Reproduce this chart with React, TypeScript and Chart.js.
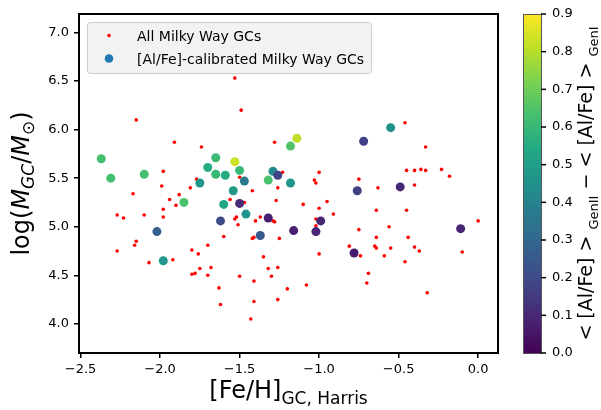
import React, { useEffect, useRef } from 'react';
import { Chart, registerables } from 'chart.js';

Chart.register(...registerables);

// ---- Data: all Milky Way GCs ----
const allFeH = [
  -1.53, -1.49, -2.15, -0.46, -1.91, -1.74, -1.28, -0.33, -1.98, -1.29,
  -1.23, -1.00, -0.45, -0.40, -0.36, -0.33, -0.23, -0.18, -0.75, -1.03,
  -1.02, -0.40, -1.77, -1.50, -1.99, -1.81, -1.26, -0.63, -1.42, -2.17,
  -1.88, -1.94, -1.90, -1.56, -1.47, -1.27, -0.95, -1.10, -1.98, -1.00,
  -2.10, -0.91, -2.27, -2.23, -1.98, -0.64, -0.45, -1.52, -1.53, -1.37,
  -1.40, -1.29, -1.28, -1.02, -1.02, 0.00, -1.51, -0.75, -0.56, -1.60,
  -2.27, -2.16, -2.15, -2.07, -1.92, -1.80, -1.76, -1.80, -1.78, -1.75,
  -1.70, -1.68, -1.70, -1.63, -1.62, -1.50, -1.43, -1.42, -1.41, -1.41,
  -1.41, -1.35, -1.32, -1.30, -1.26, -1.26, -1.25, -1.20, -1.08, -1.00,
  -0.81, -0.74, -0.69, -0.70, -0.64, -0.65, -0.64, -0.59, -0.55, -0.46,
  -0.44, -0.40, -0.37, -0.32, -0.10,
];
const allLogM = [
  6.53, 6.20, 6.10, 6.07, 5.87, 5.82, 5.87, 5.82, 5.57, 5.60,
  5.56, 5.56, 5.58, 5.58, 5.59, 5.58, 5.59, 5.52, 5.49, 5.48,
  5.45, 5.43, 5.49, 5.51, 5.42, 5.40, 5.40, 5.40, 5.37, 5.34,
  5.33, 5.28, 5.22, 5.28, 5.25, 5.27, 5.26, 5.23, 5.18, 5.19,
  5.12, 5.13, 5.12, 5.09, 5.10, 5.17, 5.17, 5.10, 5.08, 5.10,
  5.06, 5.06, 5.05, 5.08, 5.01, 5.06, 5.02, 4.97, 5.00, 4.90,
  4.75, 4.81, 4.85, 4.63, 4.66, 4.76, 4.72, 4.51, 4.52, 4.57,
  4.81, 4.58, 4.50, 4.37, 4.20, 4.49, 4.05, 4.88, 4.89, 4.44,
  4.23, 4.69, 4.57, 4.49, 4.58, 4.25, 4.88, 4.36, 4.40, 4.72,
  4.80, 4.70, 4.52, 4.42, 4.89, 4.80, 4.78, 4.70, 4.78, 4.64,
  4.89, 4.79, 4.75, 4.32, 4.74,
];

// ---- Data: [Al/Fe]-calibrated GCs ----
const calFeH = [
  -2.37, -2.31, -2.10, -1.85, -2.02, -1.98, -1.75, -1.70, -1.65, -1.65,
  -1.59, -1.53, -1.50, -1.54, -1.60, -1.50, -1.47, -1.46, -1.62, -1.37,
  -1.32, -1.32, -1.29, -1.26, -1.18, -1.18, -1.14, -1.16, -1.02, -0.99,
  -0.78, -0.76, -0.72, -0.55, -0.49, -0.11,
];
const calLogM = [
  5.70, 5.50, 5.54, 5.25, 4.95, 4.65, 5.45, 5.61, 5.71, 5.54,
  5.53, 5.67, 5.58, 5.37, 5.23, 5.24, 5.47, 5.13, 5.06, 4.91,
  5.09, 5.48, 5.57, 5.53, 5.45, 5.83, 5.91, 4.96, 4.95, 5.06,
  4.73, 5.37, 5.88, 6.02, 5.41, 4.98,
];
const calDeltaAlFe = [
  0.63, 0.63, 0.63, 0.64, 0.27, 0.47, 0.47, 0.55, 0.61, 0.60,
  0.55, 0.83, 0.60, 0.48, 0.53, 0.11, 0.36, 0.46, 0.20, 0.25,
  0.08, 0.64, 0.42, 0.18, 0.46, 0.65, 0.81, 0.08, 0.09, 0.09,
  0.07, 0.17, 0.17, 0.45, 0.10, 0.09,
];

// ---- Axes ----
const xTickValues = [-2.5, -2.0, -1.5, -1.0, -0.5, 0.0];
const yTickValues = [4.0, 4.5, 5.0, 5.5, 6.0, 6.5, 7.0];
const cbTickValues = [0.0, 0.1, 0.2, 0.3, 0.4, 0.5, 0.6, 0.7, 0.8, 0.9];
const xRange = [-2.51, 0.125];
const yRange = [3.70, 7.19];
const cbRange = [0.0, 0.9];
const legendLabels = ['All Milky Way GCs', '[Al/Fe]-calibrated Milky Way GCs'];

const viridisStops = [
  '#440154', '#482475', '#414487', '#355f8d', '#2a788e', '#21918c',
  '#22a884', '#44bf70', '#7ad151', '#bddf26', '#fde725',
];

function hexToRgb(h: string) {
  return [parseInt(h.slice(1, 3), 16), parseInt(h.slice(3, 5), 16), parseInt(h.slice(5, 7), 16)];
}
function viridis(t: number) {
  const tt = Math.max(0, Math.min(1, t));
  const p = tt * (viridisStops.length - 1);
  const i = Math.min(viridisStops.length - 2, Math.floor(p));
  const f = p - i;
  const a = hexToRgb(viridisStops[i]);
  const b = hexToRgb(viridisStops[i + 1]);
  const c = a.map((v, k) => Math.round(v + (b[k] - v) * f));
  return `rgb(${c[0]},${c[1]},${c[2]})`;
}

const FONT = '"DejaVu Sans"';
const fmt1 = (v: number) => (v < 0 ? '\u2212' : '') + Math.abs(v).toFixed(1);

type Seg = { t: string; f: string; dy?: number };

function drawRich(ctx: CanvasRenderingContext2D, segs: Seg[], cx: number, cy: number, vertical: boolean) {
  ctx.save();
  ctx.fillStyle = '#000';
  ctx.textBaseline = 'alphabetic';
  ctx.textAlign = 'left';
  let total = 0;
  const widths = segs.map((s) => {
    ctx.font = s.f;
    const w = ctx.measureText(s.t).width;
    total += w;
    return w;
  });
  ctx.translate(cx, cy);
  if (vertical) ctx.rotate(-Math.PI / 2);
  let x = -total / 2;
  segs.forEach((s, i) => {
    ctx.font = s.f;
    ctx.fillText(s.t, x, s.dy || 0);
    x += widths[i];
  });
  ctx.restore();
}

const decorPlugin = {
  id: 'decor',
  afterDraw(chart: any) {
    const ctx: CanvasRenderingContext2D = chart.ctx;
    const ca = chart.chartArea;

    // axes frame
    ctx.save();
    ctx.strokeStyle = '#000';
    ctx.lineWidth = 2;
    ctx.strokeRect(ca.left, ca.top, ca.right - ca.left, ca.bottom - ca.top);
    ctx.restore();

    // legend
    ctx.save();
    const lx = ca.left + 8;
    const ly = ca.top + 8;
    ctx.font = `14px ${FONT}`;
    const tw = Math.max(...legendLabels.map((l) => ctx.measureText(l).width));
    const lw = 50 + tw + 7;
    const lh = 51;
    ctx.beginPath();
    (ctx as any).roundRect(lx + 0.5, ly + 0.5, lw, lh, 3);
    ctx.fillStyle = '#f2f2f2';
    ctx.fill();
    ctx.strokeStyle = '#cccccc';
    ctx.lineWidth = 1;
    ctx.stroke();
    ctx.fillStyle = '#ff0000';
    ctx.beginPath();
    ctx.arc(lx + 22, ly + 13.5, 1.8, 0, Math.PI * 2);
    ctx.fill();
    ctx.fillStyle = '#1f77b4';
    ctx.beginPath();
    ctx.arc(lx + 22, ly + 36.5, 4.3, 0, Math.PI * 2);
    ctx.fill();
    ctx.fillStyle = '#000';
    ctx.textBaseline = 'alphabetic';
    ctx.fillText(legendLabels[0], lx + 50, ly + 18.5);
    ctx.fillText(legendLabels[1], lx + 50, ly + 41.5);
    ctx.restore();

    // colorbar
    const cb = chart.scales.cb;
    const y0 = cb.getPixelForValue(cbRange[0]);
    const y1 = cb.getPixelForValue(cbRange[1]);
    const bx = ca.right + 25;
    const bw = 18;
    ctx.save();
    const g = ctx.createLinearGradient(0, y0, 0, y1);
    viridisStops.forEach((c, i) => g.addColorStop(i / (viridisStops.length - 1), c));
    ctx.fillStyle = g;
    ctx.fillRect(bx, y1, bw, y0 - y1);
    ctx.strokeStyle = '#555';
    ctx.lineWidth = 1;
    ctx.strokeRect(bx + 0.5, y1 + 0.5, bw, y0 - y1);
    ctx.strokeStyle = '#000';
    ctx.lineWidth = 1.5;
    cbTickValues.forEach((v) => {
      const y = cb.getPixelForValue(v);
      ctx.beginPath();
      ctx.moveTo(bx + bw, y);
      ctx.lineTo(bx + bw + 5, y);
      ctx.stroke();
    });
    ctx.restore();

    // axis labels
    drawRich(
      ctx,
      [
        { t: '[Fe/H]', f: `24px ${FONT}` },
        { t: 'GC, Harris', f: `17px ${FONT}`, dy: 6 },
      ],
      (ca.left + ca.right) / 2,
      398,
      false
    );
    ctx.save();
    ctx.translate(28.5, (ca.top + ca.bottom) / 2);
    drawRich(
      ctx,
      [
        { t: 'log(', f: `24px ${FONT}` },
        { t: 'M', f: `italic 24px ${FONT}` },
        { t: 'GC', f: `italic 17px ${FONT}`, dy: 5 },
        { t: '/', f: `24px ${FONT}` },
        { t: 'M', f: `italic 24px ${FONT}` },
        { t: '\u2299', f: `17px ${FONT}`, dy: 5 },
        { t: ')', f: `24px ${FONT}` },
      ],
      0,
      0,
      true
    );
    ctx.restore();
    ctx.save();
    ctx.translate(591.5, (ca.top + ca.bottom) / 2);
    drawRich(
      ctx,
      [
        { t: '< [Al/Fe] > ', f: `19px ${FONT}` },
        { t: 'GenII', f: `13px ${FONT}`, dy: 6 },
        { t: ' \u2212 < [Al/Fe] > ', f: `19px ${FONT}` },
        { t: 'GenI', f: `13px ${FONT}`, dy: 6 },
      ],
      0,
      0,
      true
    );
    ctx.restore();
  },
};

export default function App() {
  const ref = useRef<HTMLCanvasElement | null>(null);
  useEffect(() => {
    if (!ref.current) return;
    const tickFont = { family: FONT, size: 13 };
    const chart = new Chart(ref.current, {
      type: 'scatter',
      data: {
        datasets: [
          {
            label: legendLabels[1],
            data: calFeH.map((x, i) => ({ x, y: calLogM[i] })),
            pointRadius: 4.5,
            pointBorderWidth: 0,
            pointBackgroundColor: calDeltaAlFe.map((v) => viridis((v - cbRange[0]) / (cbRange[1] - cbRange[0]))),
            pointBorderColor: 'rgba(0,0,0,0)',
            xAxisID: 'x',
            yAxisID: 'y',
          },
          {
            label: legendLabels[0],
            data: allFeH.map((x, i) => ({ x, y: allLogM[i] })),
            pointRadius: 1.8,
            pointBorderWidth: 0,
            pointBackgroundColor: '#ff0000',
            pointBorderColor: 'rgba(0,0,0,0)',
            xAxisID: 'x',
            yAxisID: 'y',
          },
        ],
      },
      options: {
        responsive: false,
        animation: false,
        devicePixelRatio: 1,
        events: [],
        layout: { padding: { top: 14, left: 0, right: 0, bottom: 0 } },
        plugins: { legend: { display: false }, tooltip: { enabled: false } },
        scales: {
          x: {
            type: 'linear',
            position: 'bottom',
            min: xRange[0],
            max: xRange[1],
            afterFit: (s: any) => { s.height = 57; },
            afterBuildTicks: (s: any) => { s.ticks = xTickValues.map((v) => ({ value: v })); },
            ticks: { font: tickFont, color: '#000', padding: 4, maxRotation: 0, autoSkip: false, callback: (v: any) => fmt1(Number(v)) },
            grid: { display: true, drawOnChartArea: false, drawTicks: true, tickLength: 5, color: '#000', lineWidth: 1.5 },
            border: { display: false },
          },
          y: {
            type: 'linear',
            position: 'left',
            min: yRange[0],
            max: yRange[1],
            afterFit: (s: any) => { s.width = 79; },
            afterBuildTicks: (s: any) => { s.ticks = yTickValues.map((v) => ({ value: v })); },
            ticks: { font: tickFont, color: '#000', padding: 5, autoSkip: false, callback: (v: any) => fmt1(Number(v)) },
            grid: { display: true, drawOnChartArea: false, drawTicks: true, tickLength: 5, color: '#000', lineWidth: 1.5 },
            border: { display: false },
          },
          cb: {
            type: 'linear',
            axis: 'y',
            position: 'right',
            min: cbRange[0],
            max: cbRange[1],
            afterFit: (s: any) => { s.width = 103; },
            afterBuildTicks: (s: any) => { s.ticks = cbTickValues.map((v) => ({ value: v })); },
            ticks: { font: tickFont, color: '#000', padding: 4, autoSkip: false, callback: (v: any) => Number(v).toFixed(1) },
            grid: { display: true, drawOnChartArea: false, drawTicks: true, tickLength: 50, color: 'rgba(0,0,0,0)' },
            border: { display: false },
          },
        } as any,
      },
      plugins: [decorPlugin],
    } as any);
    return () => chart.destroy();
  }, []);
  return (
    <div style={{ position: 'fixed', left: 0, top: 0, width: 601, height: 410, background: '#fff' }}>
      <canvas ref={ref} width={601} height={410} style={{ display: 'block', width: 601, height: 410 }} />
    </div>
  );
}
